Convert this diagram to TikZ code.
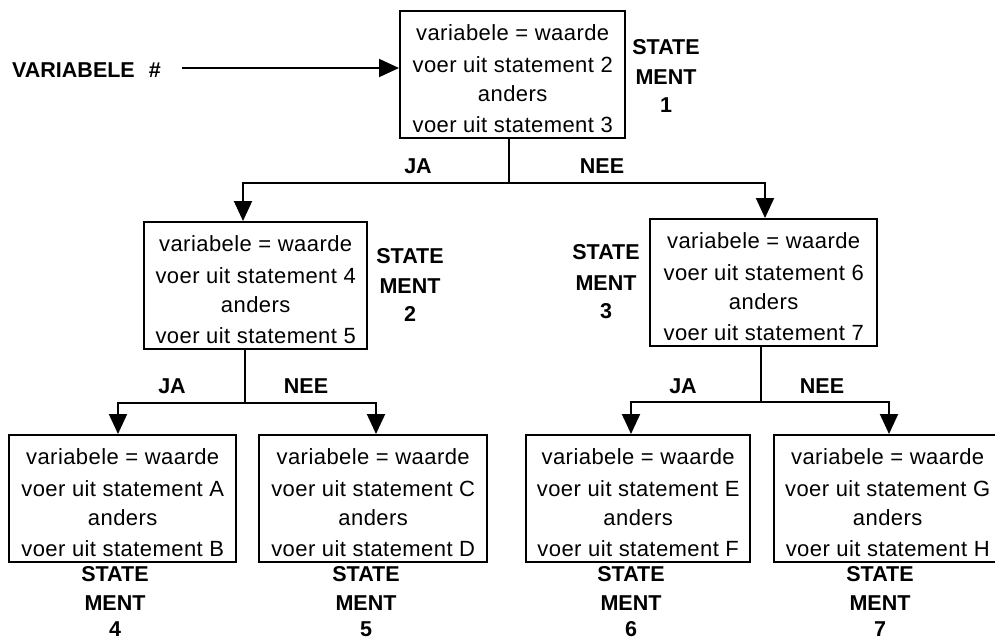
\documentclass[tikz,border=0pt]{standalone}
\usepackage{fontspec}
\setmainfont{Liberation Sans}[LetterSpace=2]
\newfontfamily\lblfont{Liberation Sans}
\usetikzlibrary{arrows.meta}
\tikzset{
  stmt/.style={draw, line width=2.4pt, rectangle, inner sep=0pt, minimum height=127pt, anchor=north west},
  txt/.style={inner sep=0pt, anchor=base, font=\fontsize{22}{26}\selectfont},
  lbl/.style={inner sep=0pt, anchor=base, font=\lblfont\fontsize{21.5}{26}\selectfont\bfseries},
  conn/.style={line width=2pt},
  arr/.style={line width=2pt, -{Triangle[length=20pt,width=18pt]}}
}
\newcommand\stmtbox[4]{% name, left, top, width
  \node[stmt, minimum width=#4] (#1) at (#2,#3) {};
  \node[txt, yshift=-30pt] (#1-1) at (#1.north) {variabele = waarde};
  \node[txt, yshift=-62pt] (#1-2) at (#1.north) {voer uit statement \csname l2#1\endcsname};
  \node[txt, yshift=-91pt] (#1-3) at (#1.north) {anders};
  \node[txt, yshift=-122pt] (#1-4) at (#1.north) {voer uit statement \csname l4#1\endcsname};
}
\newcommand\stk[6]{% name, x, y, second offset, third offset, number
  \node[lbl] (#1a) at (#2,#3) {STATE};
  \node[lbl] (#1b) at (#2,#3+#4) {MENT};
  \node[lbl] (#1c) at (#2,#3+#4+#5) {#6};
}
\expandafter\def\csname l2b1\endcsname{2}\expandafter\def\csname l4b1\endcsname{3}
\expandafter\def\csname l2b2\endcsname{4}\expandafter\def\csname l4b2\endcsname{5}
\expandafter\def\csname l2b3\endcsname{6}\expandafter\def\csname l4b3\endcsname{7}
\expandafter\def\csname l2b4\endcsname{A}\expandafter\def\csname l4b4\endcsname{B}
\expandafter\def\csname l2b5\endcsname{C}\expandafter\def\csname l4b5\endcsname{D}
\expandafter\def\csname l2b6\endcsname{E}\expandafter\def\csname l4b6\endcsname{F}
\expandafter\def\csname l2b7\endcsname{G}\expandafter\def\csname l4b7\endcsname{H}
\begin{document}
\begin{tikzpicture}[x=1pt,y=-1pt]
\useasboundingbox (0,0) rectangle (995,641);
% boxes
\stmtbox{b1}{399}{10}{225}
\stmtbox{b2}{143}{221}{223}
\stmtbox{b3}{649}{218}{227}
\stmtbox{b4}{8}{434}{227}
\stmtbox{b5}{258}{434}{228}
\stmtbox{b6}{525}{434}{224}
\stmtbox{b7}{773}{434}{227}
% input
\node[lbl, anchor=base west] (var) at (12,77) {VARIABELE\hspace{14pt}\#};
\coordinate (v0) at (182,68);
\draw[arr] (v0) -- (b1.west |- v0);
% level 1 split
\coordinate (j1) at (509,183);
\coordinate (x2) at (243,0);
\coordinate (x3) at (765,0);
\draw[conn] (b1.south -| j1) -- (j1);
\draw[arr] (j1) -| (b2.north -| x2);
\draw[arr] (j1) -| (b3.north -| x3);
\node[lbl] (ja1) at (418,173) {JA};
\node[lbl] (nee1) at (602,173) {NEE};
% level 2 left split
\coordinate (j2) at (245,403);
\coordinate (x4) at (118,0);
\coordinate (x5) at (376,0);
\draw[conn] (b2.south -| j2) -- (j2);
\draw[arr] (j2) -| (b4.north -| x4);
\draw[arr] (j2) -| (b5.north -| x5);
\node[lbl] (ja2) at (172,393) {JA};
\node[lbl] (nee2) at (306,393) {NEE};
% level 2 right split
\coordinate (j3) at (761,402);
\coordinate (x6) at (631,0);
\coordinate (x7) at (889,0);
\draw[conn] (b3.south -| j3) -- (j3);
\draw[arr] (j3) -| (b6.north -| x6);
\draw[arr] (j3) -| (b7.north -| x7);
\node[lbl] (ja3) at (683,393) {JA};
\node[lbl] (nee3) at (822,393) {NEE};
% statement labels
\stk{s1}{666}{54}{30}{28}{1}
\stk{s2}{410}{263}{30}{28}{2}
\stk{s3}{606}{259}{31}{28}{3}
\stk{s4}{115}{581}{29}{26}{4}
\stk{s5}{366}{581}{29}{26}{5}
\stk{s6}{631}{581}{29}{26}{6}
\stk{s7}{880}{581}{29}{26}{7}
\end{tikzpicture}
\end{document}
